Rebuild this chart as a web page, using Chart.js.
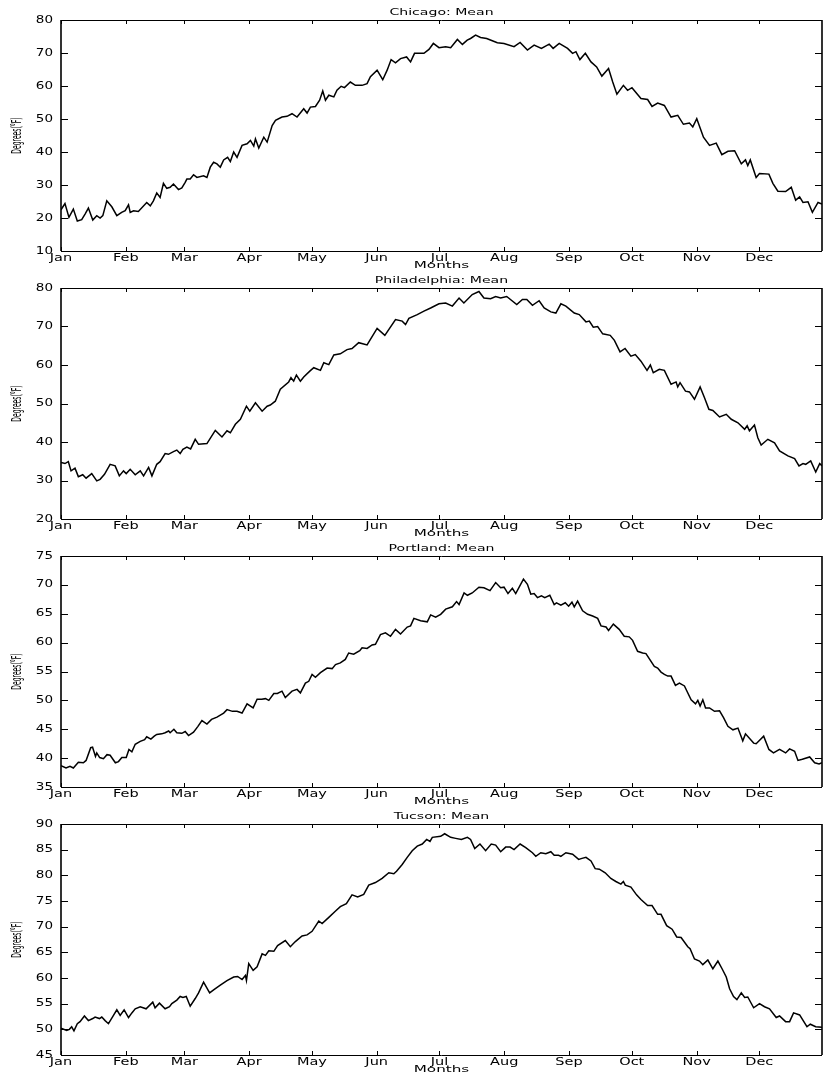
<!DOCTYPE html>
<html>
<head>
<meta charset="utf-8">
<script src="https://cdn.jsdelivr.net/npm/chart.js@4.4.1/dist/chart.umd.min.js"></script>
<style>
  body { margin: 0; background: #fff; }
  #wrap { position: relative; width: 827px; height: 1078px; }
  canvas { position: absolute; left: 0; }
</style>
</head>
<body>
<div id="wrap">
  <canvas id="chicagoChart" width="827" height="273" style="top:0px"></canvas>
  <canvas id="phillyChart" width="827" height="273" style="top:268px"></canvas>
  <canvas id="portlandChart" width="827" height="273" style="top:536px"></canvas>
  <canvas id="tucsonChart" width="827" height="273" style="top:804px"></canvas>
</div>
<script>
// month start (day of year) and names for the x axis
const monthStarts = [1, 32, 60, 91, 121, 152, 182, 213, 244, 274, 305, 335];
const monthNames = ['Jan', 'Feb', 'Mar', 'Apr', 'May', 'Jun', 'Jul', 'Aug', 'Sep', 'Oct', 'Nov', 'Dec'];

// [day of year, mean temp °F]
const chicago = [
  [1, 22.5], [2.9, 24.4], [4.8, 20.2], [6.9, 22.7], [8.8, 19.1], [10.9, 19.5], [12.5, 21.2], [14.1, 23],
  [16.2, 19.4], [18.1, 20.7], [19.7, 20], [21, 20.7], [22.9, 25.2], [25.3, 23.4], [27.7, 20.7], [30, 21.7],
  [31.7, 22.2], [33.3, 24], [34.1, 21.7], [35.7, 22.2], [38, 22], [42, 24.7], [43.7, 23.7], [45.2, 25.2],
  [46.8, 27.6], [48.4, 26.2], [50, 30.5], [51.6, 29], [53.2, 29.3], [54.8, 30.3], [57.2, 28.6], [58.8, 29.1],
  [60.4, 30.8], [61.2, 31.8], [62.8, 31.8], [64.4, 33.1], [66, 32.3], [69.2, 32.8], [70.8, 32.3], [72.4, 35.4],
  [74, 36.9], [75.6, 36.4], [77.2, 35.4], [78.8, 37.6], [80.7, 38.4], [82, 37.1], [83.6, 40], [85.2, 38.4],
  [87.6, 42], [90, 42.5], [91.6, 43.5], [93.2, 41.8], [94, 44], [95.6, 41.2], [98, 44.5], [99.6, 43],
  [102, 48], [103.6, 49.6], [106.7, 50.6], [109.1, 50.8], [111.5, 51.6], [113.9, 50.6], [117.1, 53.1], [118.7, 51.8],
  [120.3, 53.6], [122.7, 53.8], [124.7, 55.7], [126.2, 58.5], [127.5, 55.7], [129.1, 57.2], [131.5, 56.7], [133, 58.7],
  [135, 59.9], [136.6, 59.5], [139.4, 61.2], [141.8, 60.2], [145, 60.2], [147.4, 60.7], [149, 62.8], [152.2, 64.8],
  [154.9, 61.9], [157, 64.8], [158.9, 68], [161, 67], [163.4, 68.3], [166.3, 68.8], [168.2, 67.3], [170.1, 69.9],
  [174.6, 69.9], [177, 71.1], [179.1, 72.9], [181.8, 71.6], [185, 71.9], [187.4, 71.6], [190.6, 74.1], [193, 72.6],
  [195.3, 73.9], [196.9, 74.4], [199.3, 75.4], [201.7, 74.7], [204.6, 74.4], [207.3, 73.7], [209.7, 73.1], [212.9, 72.9],
  [217.7, 71.9], [220.6, 73.2], [224.1, 70.9], [227.3, 72.4], [230.8, 71.4], [234.5, 72.7], [236.4, 71.4], [239.3, 72.9],
  [243.3, 71.4], [245.7, 69.9], [247.3, 70.4], [249.2, 68], [251.8, 69.9], [254.5, 67.3], [257.2, 65.8], [259.7, 63],
  [262.9, 65.3], [264.9, 61.2], [266.9, 57.5], [270, 60.2], [272, 58.7], [274.1, 59.5], [278.4, 56.2], [281.6, 55.9],
  [283.7, 53.8], [286.4, 54.8], [289.6, 54.1], [292.8, 50.6], [296, 51.1], [298.7, 48.4], [301.6, 48.8], [303.2, 47.6],
  [305.1, 50.1], [308.3, 44.5], [311.2, 42], [314.4, 42.7], [317.1, 39.2], [320, 40.2], [323.2, 40.4], [326.4, 36.4],
  [328.4, 37.6], [329.5, 35.9], [330.7, 37.6], [333.5, 32.3], [335.1, 33.5], [339.6, 33.3], [341.5, 30.5], [343.9, 28.1],
  [347.6, 28], [350.3, 29.3], [352.4, 25.4], [354.3, 26.4], [355.9, 24.7], [358.3, 24.9], [360.4, 21.7], [363.1, 24.7],
  [365, 24.2]
];

const philadelphia = [
  [1, 34.7], [2.9, 34.4], [4.5, 34.9], [5.8, 32.5], [7.7, 33.2], [9.3, 31], [11.4, 31.5], [13, 30.6],
  [15.7, 31.8], [18.1, 29.9], [19.7, 30.3], [21.8, 31.6], [24.5, 34.2], [26.9, 33.8], [28.9, 31.2], [30.9, 32.5],
  [32.2, 31.8], [34.1, 32.9], [36.5, 31.5], [38.9, 32.5], [40.5, 31.2], [42.9, 33.4], [44.5, 31.2], [46.8, 34.2],
  [48.4, 34.9], [50.8, 37], [52.4, 36.8], [54.8, 37.5], [56.4, 37.9], [58, 37], [59.3, 38.1], [61.2, 38.7],
  [63, 38.2], [65.2, 40.7], [66.8, 39.4], [70.8, 39.6], [74.8, 43], [78, 41.3], [80.4, 42.9], [82, 42.4],
  [84.4, 44.6], [86.8, 45.9], [89.7, 49.3], [91.3, 48], [94, 50.2], [97.2, 48], [99.6, 49.3], [101.1, 49.6],
  [103.5, 50.6], [105.9, 53.7], [109.9, 55.6], [111, 56.7], [112.3, 55.8], [113.6, 57.4], [115.5, 55.8], [117.1, 56.9],
  [120, 58.4], [121.9, 59.3], [125.1, 58.6], [126.7, 60.6], [129.1, 60.1], [131.5, 62.6], [134.6, 62.9], [137.8, 64],
  [140.2, 64.3], [143.4, 65.8], [147.4, 65.2], [152.2, 69.5], [155.9, 67.7], [161, 71.8], [164.2, 71.4], [165.8, 70.5],
  [167.4, 72.1], [171.4, 73.1], [174.6, 74], [177.8, 74.8], [181.8, 75.9], [185, 76.1], [188.2, 75.3], [191.4, 77.4],
  [193.7, 76.1], [197.7, 78.3], [200.9, 79.1], [203.3, 77.4], [206.5, 77.2], [208.9, 77.8], [211.3, 77.4], [214.2, 77.8],
  [219, 75.7], [221.7, 77], [223.8, 77], [226.5, 75.5], [229.7, 76.7], [232.1, 74.8], [235.3, 73.8], [237.7, 73.5],
  [240.1, 75.9], [242.5, 75.3], [246.5, 73.5], [248.9, 73.1], [252.1, 71.2], [253.7, 71.4], [255.6, 69.8], [257.7, 70],
  [260.1, 68.1], [263.7, 67.7], [265.7, 66.4], [268.4, 63.4], [270.8, 64.3], [273.6, 62.3], [275.7, 62.7], [278.4, 61],
  [281.3, 58.6], [282.9, 60], [284.3, 58], [287.2, 58.9], [289.6, 58.6], [292.8, 55], [295.2, 55.6], [296, 54.3],
  [297.1, 55.4], [299.7, 53.2], [301.6, 53], [304, 51.1], [306.7, 54.3], [308.8, 51.5], [310.9, 48.5], [312.8, 48.2],
  [316, 46.5], [319.2, 47.2], [321.6, 45.9], [324.8, 45], [328, 43.3], [329.2, 44.2], [330.3, 42.9], [332.7, 44.4],
  [334.3, 41.1], [335.9, 39.2], [339.1, 40.7], [342.3, 39.8], [344.7, 37.7], [348.7, 36.4], [351.9, 35.7], [354, 33.8],
  [355.9, 34.4], [357.2, 34.2], [359.6, 35.1], [362, 32.2], [363.9, 34.4], [365, 33.8]
];

const portland = [
  [1, 38.7], [3.4, 38.3], [5.3, 38.6], [6.9, 38.3], [9.3, 39.3], [11.7, 39.2], [13, 39.6], [15.2, 41.8],
  [16.1, 41.9], [17.5, 40.3], [18.1, 40.9], [19.5, 40.1], [21.3, 39.9], [23, 40.6], [24.5, 40.5], [27, 39.2],
  [28.5, 39.4], [30.1, 40.1], [32.2, 40.1], [33.5, 41.5], [34.9, 41.1], [36.5, 42.4], [38.9, 42.9], [41, 43.2],
  [42, 43.7], [44, 43.3], [45.6, 43.8], [46.8, 44.1], [49.2, 44.2], [50.8, 44.4], [52.5, 44.7], [53.2, 44.4],
  [55, 45], [56.4, 44.4], [58.8, 44.3], [60.4, 44.6], [62, 43.9], [64.4, 44.5], [66.5, 45.5], [68.4, 46.5],
  [70.8, 45.9], [73, 46.7], [75.6, 47.1], [78.8, 47.8], [80.4, 48.4], [83, 48.1], [85.2, 48.1], [87.6, 47.8],
  [90, 49.4], [92.9, 48.7], [94.8, 50.2], [97, 50.2], [98.8, 50.3], [100.4, 50], [102.8, 51.2], [104.5, 51.2],
  [106.7, 51.6], [108.3, 50.5], [111.5, 51.6], [113.9, 51.9], [115.5, 51.3], [117.9, 53], [119.5, 53.3], [121.1, 54.5],
  [122.7, 54], [125.1, 54.8], [128.3, 55.6], [130.7, 55.5], [132.3, 56.2], [134.6, 56.5], [137, 57.1], [138.6, 58.2],
  [141, 58], [143.9, 58.6], [145, 59.1], [147.4, 59], [149.8, 59.6], [151.4, 59.7], [153.8, 61.4], [156.2, 61.7],
  [158.6, 61.1], [161, 62.3], [163.4, 61.5], [166.6, 62.7], [168.2, 62.9], [169.8, 64.2], [173, 63.8], [176.2, 63.6],
  [177.8, 64.8], [180.2, 64.4], [182.6, 64.9], [185, 65.8], [188.2, 66.2], [190.2, 67.1], [191.4, 66.6], [193.8, 68.6],
  [195.4, 68.2], [197.7, 68.6], [200.9, 69.6], [203.3, 69.5], [206.2, 69], [208.9, 70.4], [211.3, 69.5], [212.9, 69.6],
  [214.8, 68.5], [216.9, 69.4], [218.5, 68.5], [222.2, 71], [224.1, 70.1], [225.7, 68.4], [227.3, 68.5], [228.9, 67.8],
  [230.8, 68.1], [232.4, 67.8], [234.8, 68.2], [236.9, 66.6], [238, 66.9], [240.1, 66.5], [242.2, 66.9], [243.8, 66.3],
  [245.4, 67], [246.5, 66.2], [248.1, 67.2], [250.5, 65.5], [252.9, 64.9], [255.3, 64.6], [257.7, 64.2], [259.3, 62.9],
  [261.7, 62.7], [262.9, 62.1], [265.2, 63.2], [268, 62.3], [270.4, 61.1], [272.8, 61], [274.4, 60.4], [276.8, 58.5],
  [279.2, 58.2], [280.8, 58.1], [284.8, 55.9], [286.4, 55.6], [288, 54.9], [289.6, 54.5], [291.2, 54.2], [292.8, 54.2],
  [294.9, 52.6], [296.8, 53], [299.2, 52.5], [302.4, 50.1], [304.5, 49.4], [305.6, 50], [306.7, 49], [308, 50.1],
  [309.3, 48.7], [311.2, 48.7], [313.6, 48.1], [316, 48.2], [317.9, 47], [320, 45.5], [322.4, 44.9], [324.8, 45.2],
  [327.1, 43], [328.4, 44.2], [332.3, 42.6], [333.5, 42.5], [337.1, 43.8], [339.6, 41.5], [341.8, 40.9], [344.7, 41.5],
  [347.6, 40.9], [349.5, 41.6], [351.9, 41.2], [353.5, 39.6], [355.6, 39.8], [359.1, 40.2], [361.5, 39.2], [363.6, 39],
  [365, 39.2]
];

const tucson = [
  [1, 50.2], [3.7, 49.8], [5, 50], [6.1, 50.5], [7.2, 49.7], [8.8, 51.1], [10.1, 51.5], [12.2, 52.6],
  [14.1, 51.7], [16.2, 52.1], [17.3, 52.4], [19.4, 52.1], [20.5, 52.4], [22.1, 51.7], [23.7, 51.1], [26.1, 52.7],
  [27.7, 53.8], [29.3, 52.7], [31.2, 53.8], [33.3, 52.3], [34.9, 53.2], [36.5, 54], [38.9, 54.4], [41.7, 54],
  [44.9, 55.3], [46, 54.2], [48.1, 55.1], [50.8, 54], [52.9, 54.4], [54, 55], [56.4, 55.7], [58, 56.4],
  [59.3, 56.2], [60.9, 56.4], [62.8, 54.5], [65.2, 56], [66.8, 57.1], [69.2, 59.2], [72.1, 57.1], [74, 57.7],
  [77.2, 58.6], [80.4, 59.5], [83.6, 60.2], [85.5, 60.3], [87.6, 59.7], [89.2, 60.5], [89.7, 59.5], [90.8, 62.8],
  [92.9, 61.5], [94.8, 62.2], [97.2, 64.7], [98.8, 64.4], [100.4, 65.3], [102.8, 65.2], [104.6, 66.3], [108.3, 67.3],
  [110.7, 66.1], [113.1, 67.1], [116.3, 68.2], [118.7, 68.4], [121.1, 69.1], [124.3, 71.1], [125.9, 70.6], [129.1, 71.8],
  [132.2, 73], [134.6, 73.9], [137.5, 74.5], [140.2, 76.2], [142.9, 75.8], [145.8, 76.3], [148.2, 78.1], [151.4, 78.6],
  [154.6, 79.4], [157.8, 80.5], [160.2, 80.3], [161.5, 80.8], [164.2, 82.1], [166.6, 83.5], [169, 84.8], [171.4, 85.7],
  [173.8, 86.1], [175.9, 87], [177.5, 86.6], [178.6, 87.4], [182.6, 87.6], [184.5, 88.1], [187.4, 87.4], [189.8, 87.2],
  [192.5, 87], [195.4, 87.4], [196.9, 87], [198.9, 85.2], [201.4, 86.1], [204.1, 84.8], [206.8, 86.1], [208.9, 85.9],
  [211.3, 84.6], [213.7, 85.5], [215.8, 85.5], [217.7, 85], [220.6, 86.1], [223.3, 85.4], [226.5, 84.4], [228.1, 83.7],
  [230.5, 84.4], [232.9, 84.2], [235.3, 84.6], [236.9, 83.9], [239, 83.9], [240.1, 83.7], [242.5, 84.4], [245.7, 84.1],
  [248.6, 83.1], [250.2, 83.3], [252.1, 83.5], [254.5, 82.8], [256.5, 81.3], [258.5, 81.2], [261.3, 80.5], [264, 79.4],
  [266.4, 78.8], [268.8, 78.3], [270, 78.8], [270.9, 78.1], [273.6, 77.7], [276.3, 76.2], [278.4, 75.3], [281.6, 74.1],
  [283.7, 74.1], [286.4, 72.4], [288, 72.4], [290.7, 70.2], [293.3, 69.5], [295.5, 68], [297.6, 67.9], [300.8, 66.1],
  [301.9, 65.7], [304, 63.7], [306.4, 63.3], [308, 62.6], [310.4, 63.5], [312.8, 61.8], [315.2, 63.3], [317.2, 61.8],
  [319.2, 60.2], [320.8, 57.9], [322.7, 56.4], [324.3, 55.8], [326.4, 57.1], [328, 56.2], [329.5, 56.3], [332.3, 54.2],
  [335.1, 55], [337.5, 54.4], [339.9, 54], [343.1, 52.3], [344.7, 52.6], [347.6, 51.5], [349.5, 51.5], [351.4, 53.2],
  [354.3, 52.8], [357.8, 50.5], [359.4, 51], [362, 50.5], [365, 50.4]
];

const FONT = '"DejaVu Sans", sans-serif';

// draw text squeezed/stretched like the old matlab figure
function drawText(ctx, text, x, y, size, sx, sy, align, angle) {
  ctx.save();
  ctx.translate(x, y);
  if (angle) ctx.rotate(angle);
  ctx.scale(sx, sy);
  ctx.font = size + 'px ' + FONT;
  ctx.textAlign = align;
  ctx.textBaseline = 'middle';
  ctx.fillText(text, 0, 0);
  ctx.restore();
}

// matlab style box, inward ticks and labels
const matlabAxes = {
  id: 'matlabAxes',
  afterDraw(chart, args, opts) {
    const { ctx, chartArea: a, scales: { x, y } } = chart;
    ctx.save();
    ctx.strokeStyle = '#000';
    ctx.fillStyle = '#000';

    ctx.lineWidth = 1.6;
    ctx.beginPath();
    ctx.moveTo(a.left, a.top); ctx.lineTo(a.left, a.bottom);
    ctx.moveTo(a.right, a.top); ctx.lineTo(a.right, a.bottom);
    ctx.stroke();
    ctx.lineWidth = 1;
    ctx.beginPath();
    ctx.moveTo(a.left, a.top + 0.5); ctx.lineTo(a.right, a.top + 0.5);
    ctx.moveTo(a.left, a.bottom + 0.5); ctx.lineTo(a.right, a.bottom + 0.5);
    ctx.stroke();

    ctx.beginPath();
    x.ticks.forEach((t) => {
      const px = Math.round(x.getPixelForValue(t.value)) + 0.5;
      ctx.moveTo(px, a.bottom); ctx.lineTo(px, a.bottom - 4);
      ctx.moveTo(px, a.top); ctx.lineTo(px, a.top + 4);
    });
    y.ticks.forEach((t) => {
      const py = Math.round(y.getPixelForValue(t.value)) + 0.5;
      ctx.moveTo(a.left, py); ctx.lineTo(a.left + 7, py);
      ctx.moveTo(a.right, py); ctx.lineTo(a.right - 7, py);
    });
    ctx.stroke();

    x.ticks.forEach((t, i) => {
      drawText(ctx, monthNames[i], x.getPixelForValue(t.value), a.bottom + 7, 10, 1.45, 1, 'center');
    });
    y.ticks.forEach((t) => {
      drawText(ctx, String(t.value), a.left - 8, y.getPixelForValue(t.value), 10, 1.35, 1, 'right');
    });

    const cx = (a.left + a.right) / 2;
    drawText(ctx, opts.title, cx, a.top - 7.5, 8.8, 1.6, 1, 'center');
    drawText(ctx, 'Months', cx, a.bottom + 14.5, 9.5, 1.6, 1, 'center');
    drawText(ctx, 'Degrees(°F)', 17, (a.top + a.bottom) / 2, 11, 0.55, 1.25, 'center', -Math.PI / 2);
    ctx.restore();
  }
};

function makeChart(id, title, series, yMin, yMax, yStep) {
  return new Chart(document.getElementById(id), {
    type: 'line',
    data: {
      datasets: [{
        data: series.map(([d, t]) => ({ x: d, y: t })),
        borderColor: '#000',
        borderWidth: 1.5,
        pointRadius: 0,
        tension: 0,
        fill: false,
      }],
    },
    options: {
      responsive: false,
      animation: false,
      events: [],
      layout: { padding: { top: 20, right: 5, left: 0, bottom: 0 } },
      plugins: {
        legend: { display: false },
        tooltip: { enabled: false },
        matlabAxes: { title },
      },
      scales: {
        x: {
          type: 'linear',
          min: 1,
          max: 365,
          afterBuildTicks: (s) => { s.ticks = monthStarts.map((v) => ({ value: v })); },
          afterFit: (s) => { s.height = 22; },
          ticks: { display: false },
          grid: { display: false, drawTicks: false },
          border: { display: false },
        },
        y: {
          type: 'linear',
          min: yMin,
          max: yMax,
          afterFit: (s) => { s.width = 61; },
          ticks: { display: false, stepSize: yStep },
          grid: { display: false, drawTicks: false },
          border: { display: false },
        },
      },
    },
    plugins: [matlabAxes],
  });
}

makeChart('chicagoChart', 'Chicago: Mean', chicago, 10, 80, 10);
makeChart('phillyChart', 'Philadelphia: Mean', philadelphia, 20, 80, 10);
makeChart('portlandChart', 'Portland: Mean', portland, 35, 75, 5);
makeChart('tucsonChart', 'Tucson: Mean', tucson, 45, 90, 5);
</script>
</body>
</html>
